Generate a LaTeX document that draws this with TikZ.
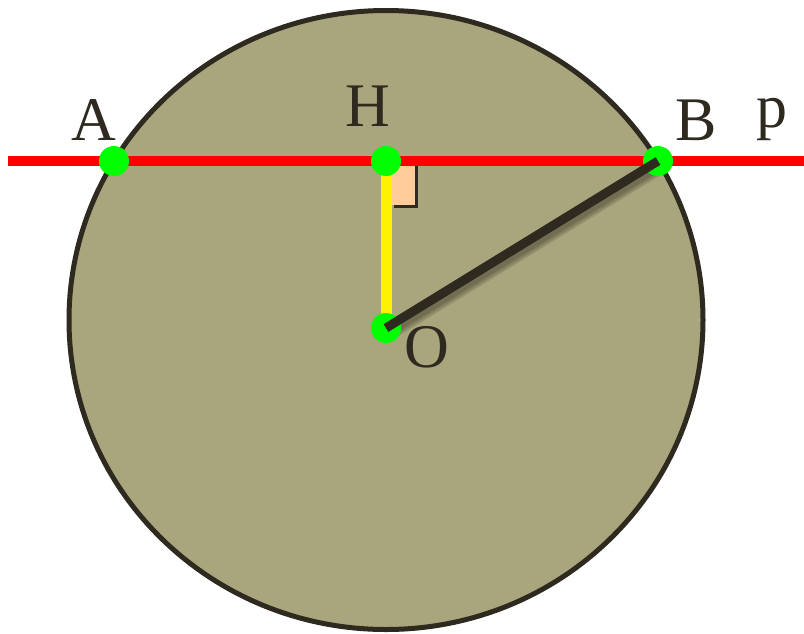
\documentclass[tikz,border=0pt]{standalone}
\usepackage{fontspec}
\setmainfont{Liberation Serif}
\definecolor{disk}{RGB}{169,165,124}
\definecolor{ink}{RGB}{46,42,32}
\definecolor{peach}{RGB}{255,204,153}
\definecolor{ptgreen}{RGB}{0,255,0}
\begin{document}
\begin{tikzpicture}[x=1pt,y=-1pt,
  lbl/.style={text=ink,font=\fontsize{62}{70}\selectfont,inner sep=0pt,anchor=base},
  pt/.style={circle,fill=ptgreen,minimum size=30pt,inner sep=0pt},
  shade/.style={black,opacity=0.12}]
\useasboundingbox (0,0) rectangle (804,633);
% disk
\draw[ink,line width=5pt,fill=disk] (386,320) ellipse [x radius=317,y radius=309.5];
% points
\coordinate (A) at (114,161);
\coordinate (H) at (386,161);
\coordinate (B) at (658,161);
\coordinate (O) at (386,328);
\coordinate (L) at (8,161);
\coordinate (R) at (804,161);
% right angle mark
\fill[ink] (394,163) rectangle (418,208);
\fill[peach] (391,161) rectangle (415,205);
% line p
\draw[red,line width=10pt] (L) -- (R);
% OH
\draw[yellow,line width=11pt] (H) -- (O);
% OB soft shadow
\draw[shade,line width=18pt] ([shift={(2,4)}]O) -- ([shift={(2,4)}]B);
\draw[shade,line width=14pt] ([shift={(2,4)}]O) -- ([shift={(2,4)}]B);
\draw[shade,line width=10pt] ([shift={(2,4)}]O) -- ([shift={(2,4)}]B);
% dots
\node[pt] (nA) at (A) {};
\node[pt] (nH) at (H) {};
\node[pt] (nB) at (B) {};
\node[pt] (nO) at (O) {};
\draw[ink,line width=9pt] (O) -- (B);
% labels
\node[lbl] (tA) at (93.5,140) {A};
\node[lbl] (tH) at (367.5,126) {H};
\node[lbl] (tB) at (696,140) {B};
\node[lbl] (tp) at (772,127) {p};
\node[lbl] (tO) at (426.5,367) {O};
\end{tikzpicture}
\end{document}
